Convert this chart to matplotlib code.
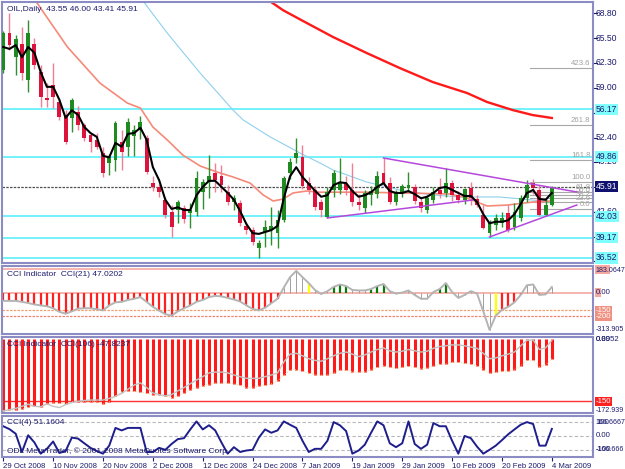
import numpy as np
import matplotlib.pyplot as plt

plt.rcParams['font.family'] = ['Liberation Sans', 'DejaVu Sans']

# daily OIL bars, 29 Oct 2008 .. 4 Mar 2009
opens = [61.3, 66.2, 63.0, 64.8, 60.0, 64.8, 61.1, 57.6, 59.3, 57.1,
         55.4, 55.0, 55.8, 54.1, 52.7, 52.1, 50.4, 49.1, 49.4, 51.8,
         51.2, 52.6, 53.4, 52.4, 46.4, 45.9, 44.2, 42.6, 42.8, 43.1,
         42.4, 42.6, 45.2, 46.6, 47.7, 47.4, 45.2, 43.9, 43.8, 40.8,
         40.2, 37.8, 39.9, 40.2, 39.8, 41.5, 47.7, 49.7, 49.8, 46.4,
         45.5, 43.9, 41.9, 45.5, 45.5, 46.3, 45.5, 43.9, 43.1, 44.8,
         45.0, 47.7, 46.4, 43.9, 45.1, 45.7, 45.9, 43.9, 42.8, 44.2,
         45.5, 45.1, 46.4, 44.8, 44.2, 45.7, 44.3, 42.2, 39.8, 40.9,
         41.2, 42.4, 40.6, 41.8, 44.4, 46.4, 45.5, 42.2, 43.55]
highs = [66.5, 68.8, 65.9, 67.0, 67.9, 65.5, 62.0, 59.6, 62.2, 57.5,
         56.0, 57.6, 56.6, 54.3, 53.0, 53.0, 51.1, 50.2, 54.6, 53.4,
         55.0, 54.0, 55.2, 52.8, 47.4, 46.3, 44.6, 43.5, 44.2, 43.5,
         43.8, 48.0, 47.0, 50.1, 49.0, 48.8, 46.2, 44.8, 44.2, 41.3,
         40.6, 38.9, 41.5, 43.2, 42.8, 47.4, 49.7, 52.3, 51.4, 47.2,
         46.0, 44.3, 45.9, 48.1, 49.7, 47.3, 49.0, 45.0, 45.5, 46.0,
         48.0, 49.7, 47.2, 45.5, 46.3, 47.8, 46.3, 44.6, 44.8, 45.9,
         47.1, 48.4, 46.8, 45.3, 45.8, 46.5, 44.8, 43.5, 41.5, 42.3,
         42.6, 43.5, 43.8, 44.8, 46.8, 47.0, 46.2, 44.3, 46.00]
lows = [60.9, 63.9, 60.7, 60.0, 58.4, 61.5, 56.4, 56.4, 56.3, 54.7,
        51.5, 53.2, 53.4, 52.0, 50.5, 50.9, 47.2, 47.5, 48.0, 48.1,
        50.0, 50.0, 52.2, 47.6, 45.3, 44.6, 41.8, 39.3, 41.2, 41.1,
        40.5, 42.0, 43.0, 44.4, 45.2, 45.2, 43.5, 42.8, 40.7, 39.7,
        38.3, 36.5, 38.0, 38.2, 37.9, 41.3, 47.0, 49.1, 45.6, 45.0,
        42.8, 41.9, 41.8, 44.6, 45.0, 44.8, 43.4, 42.8, 42.5, 43.5,
        44.5, 46.0, 43.6, 43.5, 44.6, 45.2, 43.6, 42.6, 42.5, 43.8,
        44.5, 44.6, 44.0, 43.8, 43.6, 43.5, 43.2, 40.3, 39.3, 40.2,
        40.6, 40.0, 40.2, 41.4, 43.9, 45.0, 42.0, 42.0, 43.41]
closes = [66.2, 64.6, 65.4, 60.9, 66.2, 62.0, 57.8, 57.3, 57.8, 55.1,
          51.8, 57.3, 54.1, 52.3, 51.8, 51.2, 47.7, 49.9, 54.3, 50.5,
          54.5, 53.4, 54.5, 47.9, 45.9, 45.2, 42.2, 40.6, 43.9, 41.6,
          42.8, 47.1, 46.6, 47.4, 46.8, 46.1, 43.9, 44.5, 41.1, 40.2,
          38.6, 38.5, 40.6, 40.8, 41.5, 47.1, 49.2, 50.4, 46.0, 45.5,
          43.3, 42.8, 45.2, 47.7, 46.4, 45.5, 43.9, 43.5, 45.1, 45.4,
          47.4, 46.4, 43.9, 45.1, 46.0, 46.1, 44.0, 43.1, 44.5, 45.2,
          45.0, 46.4, 44.8, 44.2, 45.6, 44.5, 43.5, 40.5, 41.2, 41.8,
          41.8, 40.2, 42.6, 44.4, 46.2, 45.8, 42.2, 43.5, 45.91]

date_labels = ['29 Oct 2008', '10 Nov 2008', '20 Nov 2008', '2 Dec 2008', '12 Dec 2008',
               '24 Dec 2008', '7 Jan 2009', '19 Jan 2009', '29 Jan 2009', '10 Feb 2009',
               '20 Feb 2009', '4 Mar 2009']
date_bars = [0, 8, 16, 24, 32, 40, 48, 56, 64, 72, 80, 88]

# moving averages
ma_fast = [64.35, 64.1, 64.6, 63.0, 64.35, 63.6, 61.05, 59.1, 59.1, 57.4,
           55.0, 56.0, 55.4, 53.8, 53.0, 52.5, 50.0, 49.8, 51.7, 51.2,
           52.9, 53.0, 53.7, 52.1, 48.5, 46.8, 44.2, 43.0, 43.2, 42.85,
           42.85, 44.8, 45.9, 46.7, 46.7, 45.9, 45.1, 44.2, 42.7, 41.0,
           39.8, 39.7, 39.95, 40.2, 40.75, 44.4, 47.3, 48.5, 47.2, 46.3,
           45.4, 44.6, 44.8, 46.15, 46.5, 46.4, 45.35, 44.6, 44.8, 45.2,
           45.9, 46.4, 45.35, 45.1, 45.1, 45.35, 44.95, 44.4, 44.6, 45.1,
           45.75, 45.9, 45.5, 45.1, 44.7, 44.7, 43.9, 42.3, 41.1, 41.3,
           41.3, 41.5, 42.3, 43.65, 45.1, 45.5, 44.3, 44.2, 45.1]
ma_mid_x = [5.1, 10.3, 15.5, 19.9, 22.0, 24.0, 26.3, 28.8, 31.6, 34.3, 36.9, 39.6, 41.7,
            43.3, 44.9, 46.5, 48.7, 50.8, 58.3, 71.6, 74.4, 77.6, 80.8, 84.9, 88.0]
ma_mid_y = [70.55, 64.35, 59.6, 56.96, 56.3, 53.8, 52.1, 50.1, 48.65, 47.86, 47.2, 46.4, 44.83,
            44.04, 44.3, 45.1, 45.36, 45.2, 45.2, 44.96, 44.43, 43.38, 43.5, 43.9, 44.04]
ma_slow_x = [22.3, 26.3, 31.6, 36.9, 38.5, 42.8, 47.6, 50.8, 52.9, 58.3, 63.6, 68.9, 73.2,
             79.6, 84.9, 88.0]
ma_slow_y = [70.55, 66.2, 60.9, 56.0, 54.72, 52.5, 50.37, 49.05, 48.13, 46.54, 45.49, 44.83,
             44.57, 44.57, 44.17, 43.91]
ma_long_x = [42.5, 44.9, 47.6, 52.9, 58.3, 63.6, 68.9, 74.4, 77.6, 81.7, 84.9, 88.0]
ma_long_y = [70.55, 69.2, 68.0, 65.67, 63.56, 61.58, 59.73, 58.28, 57.1, 56.04, 55.38, 54.99]

cyan_levels = [56.17, 49.86, 42.03, 39.17, 36.52]
last_price = 45.91
price_ticks = [68.80, 65.50, 62.30, 59.00, 55.70, 52.40, 49.20, 45.90, 42.60, 39.30, 36.10]

fib_names = ['0.0', '23.6', '38.2', '50.0', '61.8', '100.0', '161.8', '261.8', '423.6']
fib_prices = [42.98, 43.85, 44.39, 44.82, 45.26, 46.58, 49.45, 54.06, 61.58]

# triangle trend lines (bar, price)
trend_x = [[61, 92], [52, 75.3], [78, 92]]
trend_y = [[49.71, 45.23], [41.8, 44.17], [39.29, 43.51]]

cci21 = [-70, -70, -70, -78, -88, -100, -108, -115, -132, -162,
         -178, -158, -135, -132, -132, -140, -150, -108, -82, -78,
         -62, -52, -38, -78, -120, -152, -182, -195, -158, -132,
         -108, -78, -62, -38, -28, -32, -45, -58, -75, -108,
         -138, -150, -128, -90, -52, 42, 130, 183, 130, 80,
         22, -12, 12, 48, 68, 55, 22, 18, 18, 30,
         55, 72, 12, -8, 0, 18, -20, -52, -52, 5,
         30, 80, 5, -45, -20, 12, -8, -158, -314, -195,
         -145, -120, -82, -20, 62, 68, -20, -15, 47]
cci21_kind = list('r' * 45 + 'nnnn' + 'y' + 'nnn' + 'ggg' + 'nnn' + 'ggg' + 'n' * 8
                  + 'gg' + 'n' * 7 + 'y' + 'rrrr' + 'nn' + 'rr' + 'n')

cci106 = [-172.9, -172, -170, -168, -164, -162, -164, -157, -153, -155,
          -156, -151, -151, -151, -151, -151, -156, -151, -138, -127,
          -125, -126, -128, -131, -134, -136, -138, -141, -138, -130,
          -122, -117, -113, -110, -106, -106, -106, -108, -112, -117,
          -117, -113, -112, -108, -101, -87, -75, -74, -78, -82,
          -86, -87, -86, -82, -75, -76, -79, -80, -79, -74,
          -69, -65, -68, -71, -68, -66, -69, -72, -70, -65,
          -61, -60, -56, -57, -59, -61, -65, -74, -82, -80,
          -78, -78, -74, -65, -52, -52, -67, -63, -47.8]
cci106_sig = [-173, -170, -167, -162, -157, -162, -163, -156, -162, -165,
              -158, -153, -150, -148, -147, -147, -147, -143, -138, -131,
              -121, -111, -106, -117, -130, -134, -137, -134, -125, -117,
              -108, -99, -91, -82, -80, -80, -82, -87, -91, -95,
              -95, -95, -91, -87, -82, -56, -37, -35, -41, -48,
              -52, -54, -48, -41, -35, -32, -37, -43, -39, -32,
              -26, -22, -29, -32, -30, -26, -29, -32, -30, -23,
              -19, -17, -15, -15, -17, -20, -23, -35, -48, -46,
              -41, -37, -32, -17, -4, -3, -26, -22, -4]

cci4 = [70, 49, 16, -116, 5, -47, -128, -93, -40, -123,
        -109, -12, -19, -53, -86, -109, -128, -70, 58, 40,
        58, 58, 58, -116, -116, -86, -100, -58, -23, -16,
        47, 105, 47, 77, 40, -47, -128, -81, -116, -105,
        -100, -12, 47, 23, 40, 105, 81, 58, -35, -116,
        -93, -93, -35, 100, 77, 35, -128, -105, -63, 23,
        105, 77, -53, -81, -53, 105, -58, -93, -63, 93,
        70, 70, -35, -128, 0, -16, -77, -128, -100, -70,
        -30, 12, 47, 81, 100, 86, -70, -70, 51]

NAVY = '#1c1c6e'
FRAME = '#8c8cc4'
W, H = 625, 469
FS = 5.6      # MT4 style small font
FS_PRICE = 6.2
FS_LONG = 5.1  # 8-character axis values

fig = plt.figure(figsize=(6.25, 4.69), dpi=100)
fig.patch.set_facecolor('white')


def panel(top, bottom):
    ax = fig.add_axes([2 / W, 1 - bottom / H, 591 / W, (bottom - top) / H])
    ax.set_xlim(-0.2, 94.6)
    ax.set_xticks([])
    ax.set_yticks([])
    for s in ax.spines.values():
        s.set_color(FRAME)
        s.set_linewidth(1.5)
    return ax


def rtext(ax, y, s, color=NAVY, fc=None, z=6, fs=FS):
    bb = dict(boxstyle='square,pad=0.12', fc=fc, ec='none') if fc else None
    ax.text(1.005, y, s, transform=ax.get_yaxis_transform(), fontsize=fs, color=color,
            va='center', ha='left', bbox=bb, clip_on=False, zorder=z)


def rtick(ax, y):
    ax.plot([1.0, 1.006], [y, y], transform=ax.get_yaxis_transform(), color=NAVY,
            lw=0.8, clip_on=False)


x = np.arange(len(closes))
o, h, l, c = map(np.array, (opens, highs, lows, closes))
up = c >= o

# ---- main price panel
ax = panel(2, 263)
ax.set_ylim(35.86, 70.29)

for lv in cyan_levels:
    ax.axhline(lv, color='#72f2fa', lw=1.4, zorder=1)
ax.axhline(last_price, color='#505050', lw=0.9, ls=(0, (2, 1)), zorder=1)

for fn, fp in zip(fib_names, fib_prices):
    ax.plot([84.5, 94.6], [fp, fp], color='#a8a8a8', lw=0.8, zorder=1)
    ax.text(94.2, fp + 0.1, fn, color='#a0a0a0', fontsize=FS, ha='right', va='bottom', zorder=1)

ax.plot(ma_long_x, ma_long_y, color='#ff1a1a', lw=1.7, zorder=2)
ax.plot(ma_slow_x, ma_slow_y, color='#8fd0ec', lw=0.8, zorder=2)
ax.plot(ma_mid_x, ma_mid_y, color='#f58a78', lw=1.2, zorder=2)

wick_cols = np.where(up, '#2f8f2f', '#ef7f95')
ax.vlines(x, l, h, colors=wick_cols, lw=1, zorder=3)
body_cols = np.where(up, '#1f8a1f', '#dc143c')
ax.bar(x, np.maximum(np.abs(c - o), 0.12), bottom=np.minimum(o, c), width=0.62,
       color=body_cols, zorder=4)

for tx, ty in zip(trend_x, trend_y):
    ax.plot(tx, ty, color='#b548dc', lw=1.1, zorder=5)

ax.plot(x, ma_fast, color='black', lw=1.5, zorder=6)

ax.text(0.008, 0.985, 'OIL,Daily  43.55 46.00 43.41 45.91', transform=ax.transAxes,
        fontsize=6, color=NAVY, va='top', ha='left')

for p in price_ticks:
    rtick(ax, p)
    rtext(ax, p, '%.2f' % p, z=5, fs=FS_PRICE)
for lv in cyan_levels:
    rtext(ax, lv, '%.2f' % lv, fc='#80ffff', z=7, fs=FS_PRICE)
rtext(ax, last_price, '%.2f' % last_price, color='white', fc='#10106e', z=7, fs=FS_PRICE)

# ---- CCI(21)
a1 = panel(266, 334)
a1.set_ylim(-349, 224)
a1.axhline(200, color='#f4a8a0', lw=1.2)
a1.axhline(0, color='#f4a8a0', lw=1.2)
a1.axhline(-150, color='#f0a070', lw=0.9, ls=(0, (2, 1)))
a1.axhline(-200, color='#f08070', lw=0.9, ls=(0, (2, 1)))
kind_style = {'r': ('#ff2020', 1.6), 'g': ('#0a7a0a', 1.6), 'y': ('#ffff00', 1.6), 'n': ('#a0a0a0', 0.7)}
for k, (col, lw) in kind_style.items():
    idx = [i for i, kk in enumerate(cci21_kind) if kk == k]
    a1.vlines(x[idx], 0, np.array(cci21)[idx], colors=col, lw=lw, zorder=2)
a1.plot(x, cci21, color='#b4b4b4', lw=1.4, zorder=3)
a1.text(0.008, 0.93, 'CCI Indicator  CCI(21) 47.0202', transform=a1.transAxes,
        fontsize=6, color=NAVY, va='top', ha='left')
rtext(a1, 195, '200', color='#f4a8a0', fc='#f4a8a0', z=5)
rtext(a1, 183.06, '183.0647', z=6, fs=FS_LONG)
rtext(a1, 0, '0', color='#f4a8a0', fc='#f4a8a0', z=5)
rtext(a1, 0, '0.00', z=6)
rtext(a1, -150, '-150', color='white', fc='#f09080')
rtext(a1, -200, '-200', color='white', fc='#f09080')
rtext(a1, -313.9, '-313.905', fs=FS_LONG)

# ---- CCI(106)
a2 = panel(337, 413)
a2.set_ylim(-178, 4)
a2.axhline(-150, color='#ff3030', lw=1.0)
a2.vlines(x, 0, cci106, colors='#ff1a1a', lw=2.2, zorder=2)
a2.plot(x, cci106, color='#e8d080', lw=0.6, ls=':', zorder=3)
a2.plot(x, cci106_sig, color='#c4c4c4', lw=1.0, zorder=3)
a2.text(0.008, 0.95, 'CCI Indicator  CCI(106) -47.8237', transform=a2.transAxes,
        fontsize=6, color=NAVY, va='top', ha='left', zorder=6)
rtext(a2, -1.5, '0.00')
rtext(a2, -1.5, '0.8952')
rtext(a2, -150, '-150', color='white', fc='#ff2020')
rtext(a2, -172.9, '-172.939', fs=FS_LONG)

# ---- CCI(4)
a3 = panel(416, 457)
a3.set_ylim(-152, 144)
for lv in (100, 0, -100):
    a3.axhline(lv, color='#b8b8b8', lw=0.8, ls=(0, (3, 2)))
a3.plot(x, cci4, color='#1e1e8c', lw=1.4)
a3.text(0.008, 0.93, 'CCI(4) 51.1604', transform=a3.transAxes,
        fontsize=6, color=NAVY, va='top', ha='left')
a3.text(0.008, 0.06, 'ODL MetaTrader, \u00a9 2001-2008 MetaQuotes Software Corp.',
        transform=a3.transAxes, fontsize=6, color=NAVY, va='bottom', ha='left')
rtext(a3, 100, '100')
rtext(a3, 100, '166.6667', fs=FS_LONG)
rtext(a3, 0, '0.00')
rtext(a3, -100, '-100')
rtext(a3, -100, '-166.666', fs=FS_LONG)

a3.set_xticks(date_bars)
a3.set_xticklabels(date_labels, ha='left', fontsize=FS, color=NAVY)
a3.tick_params(axis='x', length=3, color=NAVY, pad=1)

fig.savefig('out.png', dpi=100)
